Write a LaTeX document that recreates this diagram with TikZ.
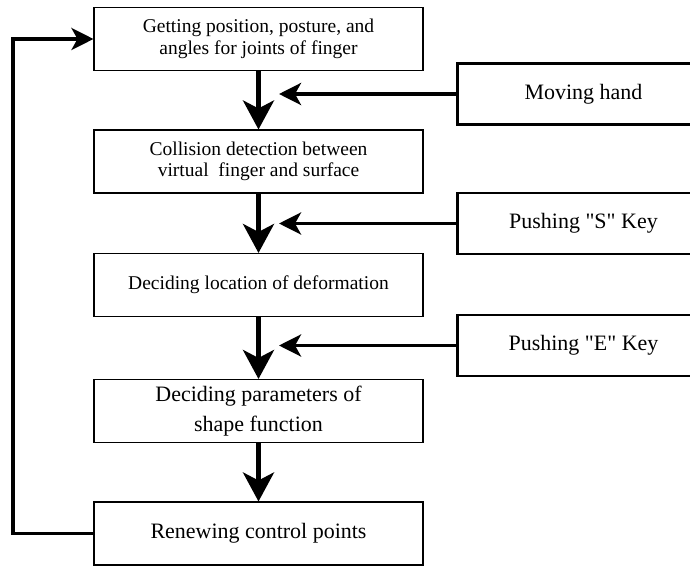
\documentclass[tikz,border=0pt]{standalone}
\usepackage{fontspec}
\setmainfont{Liberation Serif}[Ligatures=TeXOff]
\usetikzlibrary{arrows.meta, positioning, calc}

\begin{document}
\begin{tikzpicture}[
  s/.style={draw, line width=0.6pt, align=center, inner sep=1mm,
            minimum width=6.58cm, minimum height=1.26cm,
            font=\fontsize{11.1}{12.3}\selectfont},
  big/.style={s, font=\fontsize{12.5}{17}\selectfont},
  inp/.style={draw, line width=1.7pt, align=center, minimum width=5.06cm,
              minimum height=1.22cm, font=\fontsize{12.5}{15}\selectfont},
  a/.style={-{Stealth[length=5.8mm, width=6.2mm, inset=1.6mm]}, line width=2.6pt},
  ha/.style={-{Stealth[length=4.4mm, width=4.4mm, inset=1.2mm]}, line width=2.2pt}]
  \clip (0,0) rectangle (13.8,-11.32);
  % ---- main loop, top to bottom
  \node[s]   (getpos)  at (5.17,-0.78)  {Getting position, posture, and\\angles for joints of finger};
  \node[s]   (collide) at (5.17,-3.23)  {Collision detection between\\virtual~ finger and surface};
  \node[s]   (locate)  at (5.17,-5.70)  {Deciding location of deformation};
  \node[big] (params)  at (5.17,-8.22)  {Deciding parameters of\\shape function};
  \node[big] (renew)   at (5.17,-10.67) {Renewing control points};
  \draw[a] (getpos)  -- (collide);
  \draw[a] (collide) -- (locate);
  \draw[a] (locate)  -- (params);
  \draw[a] (params)  -- (renew);
  % ---- user inputs on the right, cut by the page edge
  \node[inp] (hand) at (11.67,-1.88) {Moving hand};
  \node[inp] (skey) at (11.67,-4.47) {Pushing "S" Key};
  \node[inp] (ekey) at (11.67,-6.91) {Pushing "E" Key};
  \coordinate (inx) at (5.58,0);
  \draw[ha] (hand.west) -- (hand.west -| inx);
  \draw[ha] (skey.west) -- (skey.west -| inx);
  \draw[ha] (ekey.west) -- (ekey.west -| inx);
  % ---- back to the start
  \coordinate (back) at (0.26,-10.67);
  \draw[ha] (renew.west) -- (back) |- (getpos.west);
\end{tikzpicture}
\end{document}
